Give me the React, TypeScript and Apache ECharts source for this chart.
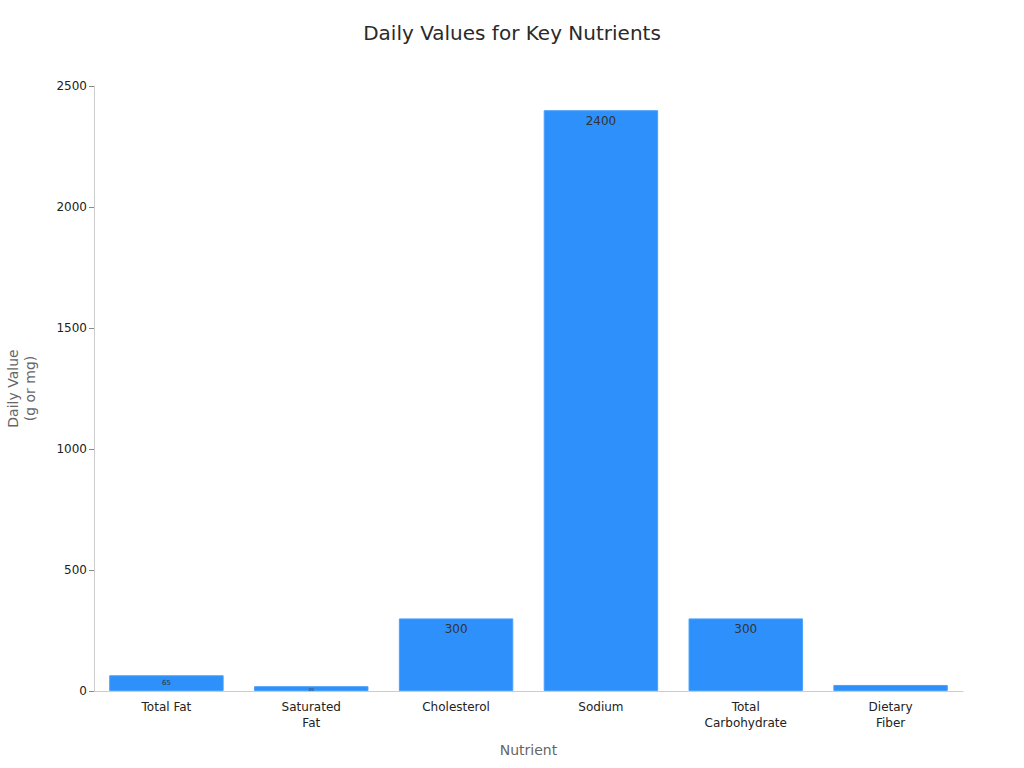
import { useEffect, useRef } from "react";
import * as echarts from "echarts";

const nutrients = ["Total Fat", "Saturated\nFat", "Cholesterol", "Sodium", "Total\nCarbohydrate", "Dietary\nFiber"];
const dailyValues = [65, 20, 300, 2400, 300, 25];
// label sizes shrink on short bars, as in the source picture
const labelSizes = [7, 4, 12, 12, 12, 0];
const labelGaps = [4, 1, 5, 5, 5, 0];

export default function App() {
  const chartRef = useRef<HTMLDivElement | null>(null);

  useEffect(() => {
    if (!chartRef.current) return;
    const chart = echarts.init(chartRef.current, undefined, { renderer: "svg" });
    const font = "DejaVu Sans";

    chart.setOption({
      animation: false,
      textStyle: { fontFamily: font },
      title: {
        text: "Daily Values for Key Nutrients",
        left: "center",
        top: 18,
        textStyle: { fontFamily: font, fontSize: 20, fontWeight: "normal", color: "#2a2a2a" },
      },
      grid: { left: 94, right: 61, top: 86, bottom: 77, outerBoundsMode: "none", containLabel: false },
      xAxis: {
        type: "category",
        data: nutrients,
        name: "Nutrient",
        nameLocation: "middle",
        nameGap: 52,
        nameTextStyle: { fontFamily: font, fontSize: 14, color: "#666" },
        axisLine: { lineStyle: { color: "#ccc" } },
        axisTick: { alignWithLabel: true, length: 4, lineStyle: { color: "#888" } },
        axisLabel: { fontFamily: font, fontSize: 12, color: "#222", lineHeight: 16, margin: 8 },
      },
      yAxis: {
        type: "value",
        min: 0,
        max: 2500,
        interval: 500,
        name: "Daily Value\n(g or mg)",
        nameLocation: "middle",
        nameGap: 56,
        nameTextStyle: { fontFamily: font, fontSize: 14, color: "#666", lineHeight: 17 },
        axisLine: { show: true, lineStyle: { color: "#ccc" } },
        axisTick: { show: true, length: 5, lineStyle: { color: "#888" } },
        axisLabel: { fontFamily: font, fontSize: 12, color: "#222", margin: 7, formatter: (v: number) => String(v) },
        splitLine: { show: false },
      },
      series: [
        {
          type: "bar",
          barCategoryGap: "21%",
          itemStyle: { color: "#2e90fa", borderColor: "#4aa0fb", borderWidth: 1 },
          data: dailyValues.map((v, i) => ({
            value: v,
            label: {
              show: labelSizes[i] > 0,
              position: "insideTop",
              distance: labelGaps[i],
              fontSize: labelSizes[i] || 1,
              fontFamily: font,
              color: "#333",
            },
          })),
        },
      ],
    });

    return () => chart.dispose();
  }, []);

  return (
    <div
      ref={chartRef}
      style={{ position: "fixed", left: 0, top: 0, width: 1024, height: 768, background: "#fff" }}
    />
  );
}
